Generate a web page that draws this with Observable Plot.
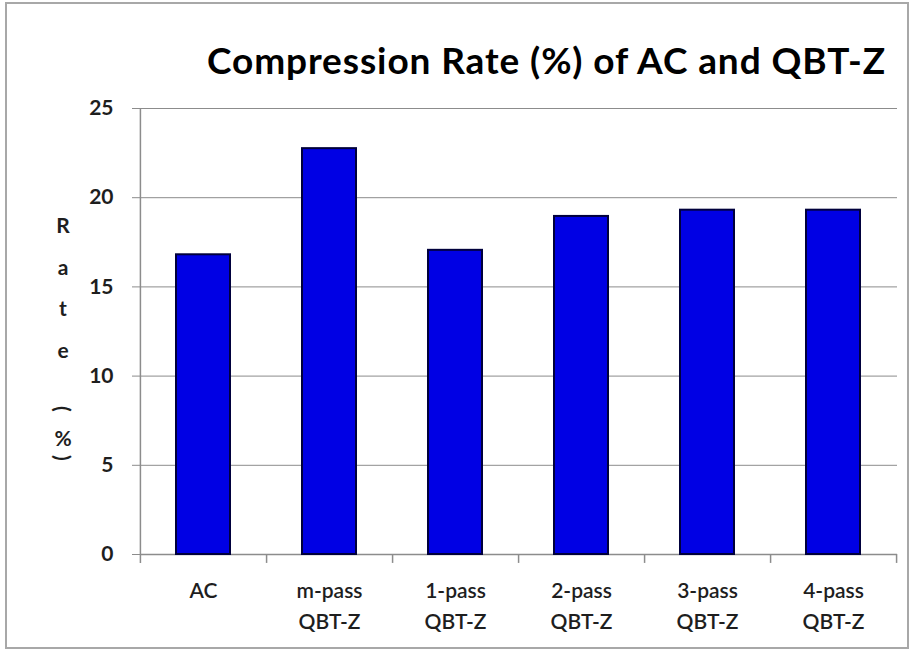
<!DOCTYPE html>
<html><head><meta charset="utf-8">
<script src="https://cdn.jsdelivr.net/npm/d3@7"></script>
<script src="https://cdn.jsdelivr.net/npm/@observablehq/plot@0.6"></script>
<style>
body{margin:0;background:#fff;}
#wrap{position:relative;width:915px;height:652px;overflow:hidden;background:#fff;}
#frame{position:absolute;left:5px;top:2px;width:904px;height:647px;border:2px solid #a8a8a8;box-sizing:border-box;pointer-events:none;}
#title{position:absolute;left:207px;top:41px;font-family:Lato,sans-serif;font-weight:bold;font-size:37px;letter-spacing:0.9px;line-height:1;color:#000;white-space:nowrap;}
#chart{position:absolute;left:0;top:90px;}
.ych{position:absolute;width:30px;height:30px;line-height:30px;text-align:center;font-family:Lato,sans-serif;font-weight:bold;font-size:21px;color:#1e1e1e;}
</style>
</head><body>
<div id="wrap">
  <div id="title">Compression Rate (%) of AC and QBT-Z</div>
  <div id="chart"></div>
  <div id="ylabel"></div>
  <div id="frame"></div>
</div>
<script>
const categories = ["AC", "m-pass\nQBT-Z", "1-pass\nQBT-Z", "2-pass\nQBT-Z", "3-pass\nQBT-Z", "4-pass\nQBT-Z"];
const rates = [16.8, 22.75, 17.05, 18.95, 19.3, 19.3];
const yTicks = [0, 5, 10, 15, 20, 25];
const yLabelChars = ["R", "a", "t", "e", "(", "%", ")"];

const data = categories.map((c, i) => ({cat: c, rate: rates[i]}));

const W = 915, H = 562;
const mL = 140, mR = 18, mT = 18, mB = 98;
const step = (W - mL - mR) / categories.length;

const chart = Plot.plot({
  width: W, height: H,
  marginLeft: mL, marginRight: mR, marginTop: mT, marginBottom: mB,
  style: {fontFamily: "Lato, sans-serif", background: "transparent", overflow: "visible"},
  x: {domain: categories, paddingInner: 0.57, paddingOuter: 0.285, axis: null},
  y: {domain: [0, 25], axis: null},
  marks: [
    Plot.gridY(yTicks, {stroke: "#8c8c8c", strokeOpacity: 1, strokeWidth: 1}),
    Plot.ruleY([0], {stroke: "#8c8c8c", strokeWidth: 1.5}),
    Plot.ruleX([categories[0]], {x: d => d, dx: -step / 2, y1: -0.5, y2: 25, stroke: "#8c8c8c", strokeWidth: 1.5}),
    Plot.ruleX(categories, {x: d => d, dx: step / 2, y1: 0, y2: -0.5, stroke: "#8c8c8c", strokeWidth: 1.5}),
    Plot.barY(data, {x: "cat", y: "rate", fill: "#0000e4", stroke: "#00003c", strokeWidth: 2}),
    Plot.axisY(yTicks, {label: null, tickSize: 8, tickPadding: 19, stroke: "#8c8c8c", fill: "#1e1e1e", fontSize: 21, fontWeight: "bold", tickFormat: d => String(d)}),
    Plot.axisX({label: null, tickSize: 0, tickPadding: 21, fill: "#1e1e1e", fontSize: 21, fontWeight: 600, lineHeight: 1.48, tickFormat: d => d})
  ]
});
document.getElementById("chart").appendChild(chart);

// vertical stacked axis title "Rate (%)" (letters upright, parentheses turned)
const ys = [225, 267, 308, 350, 409, 438, 458];
const yl = d3.select("#ylabel");
yLabelChars.forEach((ch, i) => {
  const rot = ch === "(" || ch === ")";
  yl.append("div").attr("class", "ych")
    .style("left", (63 - 15) + "px")
    .style("top", (ys[i] - 15) + "px")
    .style("transform", rot ? "rotate(90deg)" : null)
    .text(ch);
});
</script>
</body></html>
